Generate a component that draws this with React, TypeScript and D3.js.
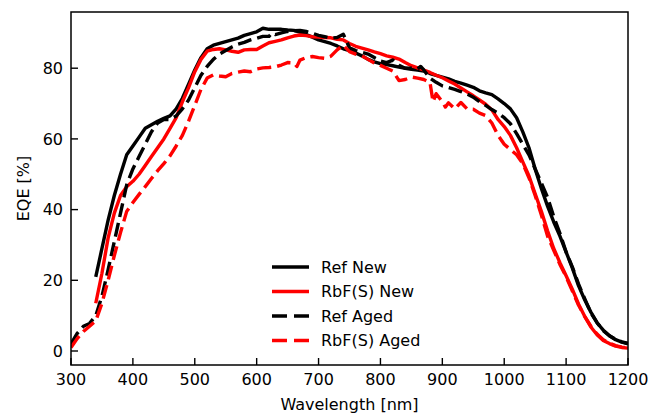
import React from "react";
import * as d3 from "d3";

const WIDTH = 651;
const HEIGHT = 414;

// Wavelength grids (nm)
const wlNew = [340,350,360,370,380,390,400,410,420,430,440,450,460,470,480,490,500,510,520,530,540,550,560,570,580,590,600,610,620,630,640,650,660,670,680,690,700,710,720,730,740,750,760,770,780,790,800,810,820,830,840,850,860,870,880,890,900,910,920,930,940,950,960,970,980,990,1000,1010,1020,1030,1040,1050,1060,1070,1080,1090,1100,1110,1120,1130,1140,1150,1160,1170,1180,1190,1200];

const refNew = [21,29,37,44,50,55.5,58,60.5,63,64,65,65.8,66.5,68.5,71.5,75.5,79.5,83,85.5,86.5,87,87.5,88,88.5,89.3,89.8,90.3,91.3,91,91,91,90.8,90.7,90.2,89.5,88.8,88,87.5,87,86.3,85.5,85,84.3,83.5,82.5,81.8,81.3,81,80.7,80.3,80,79.7,79.5,79.2,78.5,78,77.5,77,76.3,75.8,75.2,74.6,73.6,73,72.5,71.3,70,68.5,66,62,57.5,51.5,46,41,36.5,32.5,28,23.5,18.5,14.5,11,8,5.9,4.3,3.2,2.5,2];

const rbfNew = [13.5,22,32,39,44,46.5,48,50,52.5,55,57.5,60,63,66,70.5,74.5,79,82.5,84.8,85.3,85.5,85.2,84.8,84.5,85.2,85.3,85.3,86.3,87.2,87.6,88,88.6,89.1,89.4,89.2,88.9,88.8,88.7,88.6,88.2,88,87,86.2,85.7,85.2,84.6,84.1,83.5,83.1,82.6,81.6,80.7,80.1,79.5,78.8,78,77.3,76.4,75.5,74.4,73.3,72.2,71,69.8,68.2,65.5,63.5,61,57.5,53.5,49.5,44.5,39.5,34,29,25,21.3,17.5,13.3,9.8,6.8,4.6,3,2.1,1.4,1,0.8];

const wlRefAged = [300,310,320,330,340,350,360,370,380,390,400,410,420,430,440,450,460,470,480,490,500,510,520,530,540,550,560,570,580,590,600,610,620,625,630,640,650,660,670,680,690,700,710,720,730,740,750,760,770,780,790,800,810,820,830,840,850,860,865,870,880,890,900,910,920,930,940,950,960,970,980,990,1000,1010,1020,1030,1040,1050,1060,1070,1080,1090,1100,1110,1120,1130,1140,1150,1160,1170,1180,1190,1200];

const refAged = [2,5,7,7.8,10,15.5,23,31,39,47,51.5,55,58.5,62,64.5,65.5,65.5,66.5,68.5,71,74.5,78,80.5,82.5,84,85,86,86.8,87.3,88,88.5,89,89,90,89.5,90,90.4,90.6,90.7,90.4,89.9,89.3,88.9,88.5,88.7,89.6,85.8,85,84.5,84,83,82,81.6,82.3,80.8,80,80,79.8,80.5,79.5,77.2,76,75,74.5,74,73.4,72.7,71.8,70.5,69.5,68.3,67.3,66,64.3,61.5,58.5,55.5,51.5,47.5,43.5,38,33.3,28,23.8,19,14.8,10.8,8,5.8,4.3,3.3,2.6,2.2];

const wlRbfAged = [300,310,320,330,340,350,360,370,380,390,400,410,420,430,440,450,460,470,480,490,500,510,520,530,540,550,560,570,580,590,600,610,620,630,640,650,660,665,670,680,690,700,710,720,730,740,750,760,770,780,790,800,810,820,830,840,850,860,870,880,885,890,900,905,910,920,930,940,950,960,970,980,990,1000,1010,1020,1030,1040,1050,1060,1070,1080,1090,1100,1110,1120,1130,1140,1150,1160,1170,1180,1190,1200];

const rbfAged = [1,3.5,5.5,7,8.5,13.5,20,27,33.5,39.5,42,44.3,46.5,48.8,51,53,55.2,58,61,65,69.5,74,77.2,78.1,77.8,77.6,78.5,78.9,79.2,79,79.8,80.1,80.2,80.4,80.9,81.6,81.5,80.5,82.3,83,83.3,83,82.8,83.4,85.2,86.5,84.7,84,83.5,82.5,81.5,80.8,80,79.2,76.5,76.8,77.5,77.2,76.8,76,70.5,72.8,70.5,69,70.2,68.5,70.3,68.5,68.4,67.3,66.6,64.5,61,58.5,57,55.5,53,49,44,38.5,32.5,28.5,24.5,21,17,13,9.8,7,4.8,3.2,2.2,1.5,1.1,0.9];

const xTicks = [300,400,500,600,700,800,900,1000,1100,1200];
const yTicks = [0,20,40,60,80];

const seriesNames = ["Ref New", "RbF(S) New", "Ref Aged", "RbF(S) Aged"];
const seriesColors = ["#000000", "#ff0000", "#000000", "#ff0000"];
const seriesDashed = [false, false, true, true];

export default function App() {
  const left = 71, right = 628, top = 12, bottom = 365;
  const x = d3.scaleLinear().domain([300, 1200]).range([left, right]);
  const y = d3.scaleLinear().domain([-3.96, 95.9]).range([bottom, top]);

  const series = [
    { wl: wlNew, v: refNew },
    { wl: wlNew, v: rbfNew },
    { wl: wlRefAged, v: refAged },
    { wl: wlRbfAged, v: rbfAged },
  ];

  const line = d3
    .line<[number, number]>()
    .x((d) => x(d[0]))
    .y((d) => y(d[1]));

  const font = "DejaVu Sans, sans-serif";
  const lw = 3.4;
  const dash = "14 6";

  const legendY = [267, 291.5, 316, 340.5];

  return (
    <svg
      width={WIDTH}
      height={HEIGHT}
      style={{ position: "absolute", left: 0, top: 0, background: "#fff" }}
      fontFamily={font}
    >
      <rect x={0} y={0} width={WIDTH} height={HEIGHT} fill="#fff" />
      <defs>
        <clipPath id="plotclip">
          <rect x={left} y={top} width={right - left} height={bottom - top} />
        </clipPath>
      </defs>
      <g clipPath="url(#plotclip)">
        {series.map((s, i) => (
          <path
            key={i}
            d={line(s.wl.map((w, j) => [w, s.v[j]] as [number, number])) || ""}
            fill="none"
            stroke={seriesColors[i]}
            strokeWidth={lw}
            strokeDasharray={seriesDashed[i] ? dash : undefined}
            strokeLinejoin="round"
          />
        ))}
      </g>
      {/* frame */}
      <rect
        x={left}
        y={top}
        width={right - left}
        height={bottom - top}
        fill="none"
        stroke="#000"
        strokeWidth={1.5}
      />
      {/* x ticks */}
      {xTicks.map((t) => (
        <g key={"x" + t}>
          <line x1={x(t)} x2={x(t)} y1={bottom} y2={bottom - 7} stroke="#000" strokeWidth={1.4} />
          <text x={x(t)} y={bottom + 20} fontSize={16} textAnchor="middle" fill="#000">
            {t}
          </text>
        </g>
      ))}
      {/* y ticks */}
      {yTicks.map((t) => (
        <g key={"y" + t}>
          <line x1={left} x2={left + 7} y1={y(t)} y2={y(t)} stroke="#000" strokeWidth={1.4} />
          <text x={left - 8} y={y(t) + 5.8} fontSize={16} textAnchor="end" fill="#000">
            {t}
          </text>
        </g>
      ))}
      <text x={(left + right) / 2} y={410} fontSize={16} textAnchor="middle" fill="#000">
        Wavelength [nm]
      </text>
      <text
        transform={`translate(29, ${(top + bottom) / 2}) rotate(-90)`}
        fontSize={16}
        textAnchor="middle"
        fill="#000"
      >
        EQE [%]
      </text>
      {/* legend */}
      {seriesNames.map((n, i) => (
        <g key={n}>
          <line
            x1={272}
            x2={309}
            y1={legendY[i]}
            y2={legendY[i]}
            stroke={seriesColors[i]}
            strokeWidth={lw}
            strokeDasharray={seriesDashed[i] ? "15 7" : undefined}
          />
          <text x={321} y={legendY[i] + 5.8} fontSize={16} fill="#000">
            {n}
          </text>
        </g>
      ))}
    </svg>
  );
}
